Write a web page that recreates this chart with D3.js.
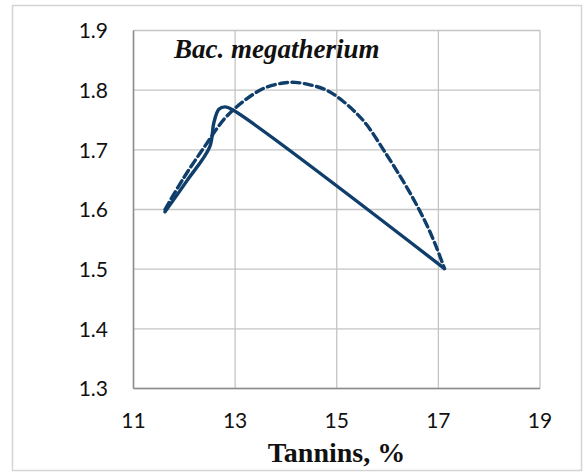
<!DOCTYPE html>
<meta charset="utf-8">
<style>
body { margin: 0; background: #fff; }
.grid line { stroke: #c4c4c4; stroke-width: 1.3px; }
.tick-label { font: 21px Lato, sans-serif; fill: #111; }
.title { font: italic bold 27px "Liberation Serif", serif; fill: #111; }
.axis-title { font: bold 28px "Liberation Serif", serif; fill: #111; }
.curve { fill: none; stroke: #0f3e6b; stroke-width: 3.4px; stroke-linecap: round; stroke-linejoin: round; }
</style>
<svg width="584" height="472"></svg>
<script src="https://cdn.jsdelivr.net/npm/d3@7"></script>
<script>

// tick values
var xTicks = [11, 13, 15, 17, 19];
var yTicks = [1.3, 1.4, 1.5, 1.6, 1.7, 1.8, 1.9];

// solid curve
var solidX = [11.62, 12.05, 12.5, 12.58, 12.68, 12.8, 12.95, 17.12];
var solidY = [1.596, 1.648, 1.705, 1.745, 1.768, 1.772, 1.767, 1.501];

// dashed curve
var dashX = [11.62, 11.98, 12.38, 12.80, 13.16, 13.56, 13.95, 14.18, 14.47, 14.80,
             15.13, 15.39, 15.59, 15.98, 16.31, 16.57, 16.80, 16.97, 17.12];
var dashY = [1.600, 1.652, 1.703, 1.753, 1.781, 1.803, 1.812, 1.813, 1.809, 1.800,
             1.781, 1.761, 1.742, 1.692, 1.647, 1.608, 1.569, 1.535, 1.501];

var svg = d3.select("svg");

var x = d3.scaleLinear().domain([11, 19]).range([133.5, 540]);
var y = d3.scaleLinear().domain([1.3, 1.9]).range([388.5, 30.5]);

// outer frame
svg.append("rect")
    .attr("x", 12.5).attr("y", 5.5)
    .attr("width", 569).attr("height", 465)
    .attr("fill", "#fff")
    .attr("stroke", "#d4d4d4")
    .attr("stroke-width", 1.5);

var grid = svg.append("g").attr("class", "grid");

grid.selectAll("line.h")
    .data(yTicks)
    .enter().append("line")
    .attr("class", "h")
    .attr("x1", x(11)).attr("x2", x(19))
    .attr("y1", function(d) { return y(d); })
    .attr("y2", function(d) { return y(d); });

grid.selectAll("line.v")
    .data(xTicks)
    .enter().append("line")
    .attr("class", "v")
    .attr("y1", y(1.3)).attr("y2", y(1.9))
    .attr("x1", function(d) { return x(d); })
    .attr("x2", function(d) { return x(d); });

// axis lines, a bit darker than the grid
svg.append("line")
    .attr("x1", x(11)).attr("x2", x(11))
    .attr("y1", y(1.3)).attr("y2", y(1.9))
    .attr("stroke", "#8c8c8c").attr("stroke-width", 1.5);
svg.append("line")
    .attr("x1", x(11)).attr("x2", x(19))
    .attr("y1", y(1.3)).attr("y2", y(1.3))
    .attr("stroke", "#8c8c8c").attr("stroke-width", 1.5);

svg.append("g").selectAll("text")
    .data(yTicks)
    .enter().append("text")
    .attr("class", "tick-label")
    .attr("x", 108)
    .attr("y", function(d) { return y(d) + 7.8; })
    .attr("text-anchor", "end")
    .text(function(d) { return d.toFixed(1); });

svg.append("g").selectAll("text")
    .data(xTicks)
    .enter().append("text")
    .attr("class", "tick-label")
    .attr("x", function(d) { return x(d); })
    .attr("y", 428)
    .attr("text-anchor", "middle")
    .text(function(d) { return d; });

var line = d3.line()
    .x(function(d) { return x(d[0]); })
    .y(function(d) { return y(d[1]); })
    .curve(d3.curveCatmullRom.alpha(0.5));

svg.append("path")
    .attr("class", "curve")
    .attr("stroke-dasharray", "8,4.5")
    .attr("stroke-linecap", "butt")
    .attr("d", line(d3.zip(dashX, dashY)));

svg.append("path")
    .attr("class", "curve")
    .attr("d", line(d3.zip(solidX, solidY)));

svg.append("text")
    .attr("class", "title")
    .attr("x", 174)
    .attr("y", 58)
    .text("Bac. megatherium");

svg.append("text")
    .attr("class", "axis-title")
    .attr("x", 336.5)
    .attr("y", 462)
    .attr("text-anchor", "middle")
    .text("Tannins, %");

</script>
